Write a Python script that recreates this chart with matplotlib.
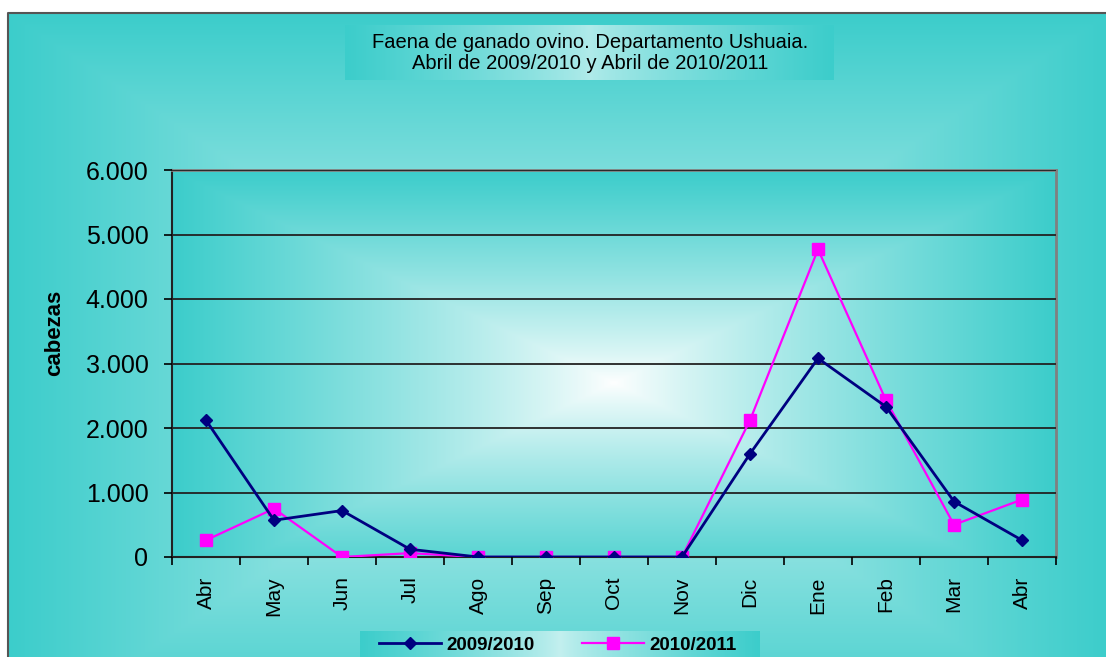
import numpy as np
import matplotlib.pyplot as plt
from matplotlib.ticker import FuncFormatter, FixedLocator
from matplotlib.colors import to_rgb

# Datos
meses = ['Abr', 'May', 'Jun', 'Jul', 'Ago', 'Sep', 'Oct', 'Nov',
         'Dic', 'Ene', 'Feb', 'Mar', 'Abr']
serie_0910 = [2120, 570, 720, 120, 0, 0, 0, 0, 1600, 3080, 2330, 860, 260]
serie_1011 = [260, 750, 0, 60, 0, 0, 0, 0, 2120, 4770, 2430, 500, 890]
nombres = ['2009/2010', '2010/2011']

titulo = 'Faena de ganado ovino. Departamento Ushuaia.\nAbril de 2009/2010 y Abril de 2010/2011'

plt.rcParams['font.family'] = ['Liberation Sans', 'DejaVu Sans']

W, H = 1106, 657
TEAL = np.array(to_rgb('#3ccdcb'))
WHITE = np.ones(3)


# Degradado rectangular "desde el centro" (tipo Excel)
def gradiente(nx, ny, cx=0.5, cy=0.5, gamma=1.0, horizontal=False):
    x = np.linspace(0, 1, nx)
    y = np.linspace(0, 1, ny)
    X, Y = np.meshgrid(x, y)
    dx = np.abs(X - cx) / max(cx, 1 - cx)
    dy = np.abs(Y - cy) / max(cy, 1 - cy)
    f = dx if horizontal else np.maximum(dx, dy)
    t = np.clip(f, 0, 1) ** gamma
    return WHITE * (1 - t[..., None]) + TEAL * t[..., None]


fig = plt.figure(figsize=(W / 100, H / 100), dpi=100)
fig.patch.set_facecolor('white')

# Fondo del grafico
bg = fig.add_axes([0, 0, 1, 1], zorder=-1)
bg.set_xlim(0, W)
bg.set_ylim(H, 0)
bg.axis('off')
bg.imshow(gradiente(400, 300, cx=0.5, cy=0.55, gamma=0.7),
          extent=(8, W + 4, H + 20, 13), aspect='auto', interpolation='bilinear')
bg.plot([8, 8, W + 5], [H + 5, 13, 13], color='#555555', lw=1.5)

# Caja del titulo
bg.imshow(gradiente(200, 40, gamma=0.8, horizontal=True) * 0.6 + TEAL * 0.4,
          extent=(345, 834, 80, 25), aspect='auto', interpolation='bilinear')
bg.text(590, 53, titulo, ha='center', va='center', fontsize=14.5, linespacing=1.1)

# Etiqueta del eje y
bg.text(55, 333, 'cabezas', ha='center', va='center', rotation=90,
        fontsize=16, fontweight='bold')

# Caja de la leyenda
bg.imshow(gradiente(200, 20, gamma=0.8, horizontal=True) * 0.7 + TEAL * 0.3,
          extent=(360, 760, H + 5, 631), aspect='auto', interpolation='bilinear')

# Area de trazado
ax = fig.add_axes([172 / W, (H - 557) / H, (1056 - 172) / W, (557 - 170) / H])
ax.patch.set_alpha(0)
ax.imshow(gradiente(300, 200, cx=0.5, cy=0.55, gamma=0.85),
          extent=(-0.5, 12.5, 0, 6000), aspect='auto', interpolation='bilinear', zorder=0)

x = np.arange(len(meses))
ax.plot(x, serie_0910, color='#000080', lw=2, marker='D', ms=7, zorder=4, label=nombres[0])
ax.plot(x, serie_1011, color='#ff00ff', lw=1.6, marker='s', ms=11, zorder=3, label=nombres[1])

ax.set_xlim(-0.5, 12.5)
ax.set_ylim(0, 6000)
ax.set_yticks(np.arange(0, 6001, 1000))
ax.yaxis.set_major_formatter(FuncFormatter(lambda v, p: f'{int(v):,}'.replace(',', '.')))
ax.grid(axis='y', color='#222222', lw=1.3, zorder=1)
ax.set_axisbelow(False)

ax.xaxis.set_major_locator(FixedLocator(np.arange(-0.5, 13, 1)))
ax.xaxis.set_major_formatter(FuncFormatter(lambda v, p: ''))
ax.set_xticks(x, minor=True)
ax.set_xticklabels(meses, minor=True, rotation=90, fontsize=15)
ax.tick_params(axis='x', which='minor', length=0, pad=14)
ax.tick_params(axis='x', which='major', length=6, width=1.2, direction='out')
ax.tick_params(axis='y', length=6, width=1.2, labelsize=18, pad=11)

for s in ['top', 'right']:
    ax.spines[s].set_color('#808080')
    ax.spines[s].set_linewidth(2)
for s in ['left', 'bottom']:
    ax.spines[s].set_color('#222222')
    ax.spines[s].set_linewidth(1.5)

h, l = ax.get_legend_handles_labels()
h[0].set_markersize(6)
h[1].set_markersize(9)
leg = fig.legend(h, l, loc='center', bbox_to_anchor=(558 / W, 1 - 645 / H), ncol=2,
                 frameon=False, prop={'weight': 'bold', 'size': 13.5},
                 handlelength=3.3, handletextpad=0.3, columnspacing=2.5)

fig.savefig('out.png', dpi=100)
